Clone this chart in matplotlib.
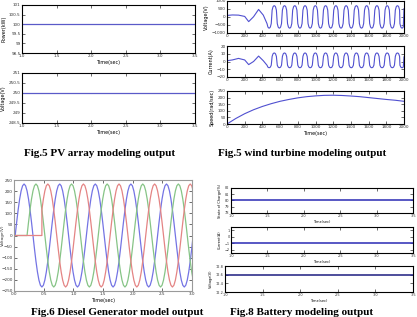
import matplotlib.pyplot as plt
import numpy as np

W, H = 417, 317

# ---- PV array (Fig.5 left) ----
pv_time = [1, 3.5]
pv_power = [100, 100]
pv_voltage = [250, 250]
pv_xticks = [1, 1.5, 2, 2.5, 3, 3.5]
pv_power_ticks = [98.5, 99, 99.5, 100, 100.5, 101]
pv_voltage_ticks = [248.5, 249, 249.5, 250, 250.5, 251]

# ---- wind turbine (Fig.5 right) ----
wind_start_t = [0, 60, 130, 200, 245, 300, 357, 410]
wind_start_v = [80, 110, 100, 20, -300, 0, 450, 100]
wind_start_i = [1, 2, 4, 2, -4, 0, 7, 1]
wind_peaks = [534, 650, 766, 882, 998, 1114, 1230, 1346, 1462, 1578, 1694, 1810, 1926]
wind_troughs = [476, 592, 708, 824, 940, 1056, 1172, 1288, 1404, 1520, 1636, 1752, 1868, 1978]
wind_v_levels = (680, -700)
wind_i_levels = (11, -8)
wind_end_v = 500
wind_end_i = 6
# shape of one rounded, slightly flat-topped half wave around its crest
crest_dt = [-24, -14, -6, 0, 6, 14, 24]
crest_frac = [0.6, 0.9, 0.98, 1.0, 0.98, 0.9, 0.6]
speed_t = [0, 100, 200, 300, 400, 500, 600, 700, 800, 900, 1000, 1100, 1200,
           1300, 1400, 1500, 1600, 1700, 1800, 1900, 2000]
speed = [0, 42, 78, 108, 133, 154, 172, 186, 198, 207, 213, 217, 218,
         216, 212, 207, 200, 193, 186, 180, 172]

# ---- diesel generator (Fig.6) ----
diesel_amp = 232
diesel_period = 0.6
# one cycle of the phase voltage, starting at a peak
diesel_cycle = [1.0, 0.966, 0.866, 0.707, 0.5, 0.259, 0.0, -0.259, -0.5, -0.707, -0.866, -0.966,
                -1.0, -0.966, -0.866, -0.707, -0.5, -0.259, 0.0, 0.259, 0.5, 0.707, 0.866, 0.966]
diesel_first_peak = {'a': 0.17, 'b': 0.37, 'c': 0.57}
diesel_on = {'a': 0.0, 'b': 0.22, 'c': 0.47}
diesel_colors = {'a': '#7474e4', 'b': '#86c486', 'c': '#e48484'}

# ---- battery (Fig.8) ----
bat_time = [1, 3.5]
bat_soc = [80, 80]
bat_current = [-1, -1]
bat_voltage = [12.6, 12.6]


def box(fig, l, t, r, b):
    return fig.add_axes([l / W, 1 - b / H, (r - l) / W, (b - t) / H])


def matlab_look(ax, fs=3, color='black'):
    ax.tick_params(direction='in', top=True, right=True, labelsize=fs,
                   length=2, width=0.5, pad=1, colors='#333333')
    for s in ax.spines.values():
        s.set_linewidth(0.8)
        s.set_color(color)


def wave(t0, v0, levels, end_v):
    ev = sorted([(t, levels[0]) for t in wind_peaks] + [(t, levels[1]) for t in wind_troughs])
    t = list(t0)
    v = list(v0)
    for tc, lv in ev:
        for dt, fr in zip(crest_dt, crest_frac):
            if tc + dt <= 2000:
                t.append(tc + dt)
                v.append(lv * fr)
    t.append(2000)
    v.append(end_v)
    return t, v


def phase(key):
    p = diesel_first_peak[key]
    step = diesel_period / len(diesel_cycle)
    k0 = int(np.ceil((diesel_on[key] - p) / step - 1e-9))
    k1 = int(np.floor((3.02 - p) / step))
    ks = np.arange(k0, k1 + 1)
    t = list(p + ks * step)
    v = [diesel_amp * diesel_cycle[k % len(diesel_cycle)] for k in ks]
    if diesel_on[key] > 0:
        t = [-0.02, diesel_on[key]] + t
        v = [0, 0] + v
    return t, v


fig = plt.figure(figsize=(W / 100, H / 100), dpi=100)
fig.patch.set_facecolor('white')

# PV array
ax = box(fig, 22, 5, 195, 53)
ax.plot(pv_time, pv_power, color='#5a5ac8', lw=0.9)
ax.set_xlim(1, 3.5)
ax.set_ylim(98.5, 101)
ax.set_xticks(pv_xticks)
ax.set_yticks(pv_power_ticks)
ax.set_yticklabels([f'{v:g}' for v in pv_power_ticks])
ax.set_ylabel('Power(kW)', fontsize=3.5, labelpad=2)
ax.set_xlabel('Time(sec)', fontsize=3.5, labelpad=1)
matlab_look(ax)

ax = box(fig, 22, 73, 195, 123)
ax.plot(pv_time, pv_voltage, color='#5a5ac8', lw=0.9)
ax.set_xlim(1, 3.5)
ax.set_ylim(248.5, 251)
ax.set_xticks(pv_xticks)
ax.set_yticks(pv_voltage_ticks)
ax.set_yticklabels([f'{v:g}' for v in pv_voltage_ticks])
ax.set_ylabel('Voltage(V)', fontsize=3.5, labelpad=2)
ax.set_xlabel('Time(sec)', fontsize=3.5, labelpad=1)
matlab_look(ax)

# wind turbine
wt, wv = wave(wind_start_t, wind_start_v, wind_v_levels, wind_end_v)
ax = box(fig, 227, 0.5, 404, 33)
ax.plot(wt, wv, color='#5050d0', lw=0.8)
ax.set_xlim(0, 2000)
ax.set_ylim(-1000, 1000)
ax.set_xticks(range(0, 2001, 200))
ax.set_yticks([-1000, -500, 0, 500, 1000])
ax.set_ylabel('Voltage(V)', fontsize=3.5, labelpad=2)
matlab_look(ax)

wt, wi = wave(wind_start_t, wind_start_i, wind_i_levels, wind_end_i)
ax = box(fig, 227, 46, 404, 77)
ax.plot(wt, wi, color='#5050d0', lw=0.8)
ax.set_xlim(0, 2000)
ax.set_ylim(-20, 20)
ax.set_xticks(range(0, 2001, 200))
ax.set_yticks([-20, -10, 0, 10, 20])
ax.set_ylabel('Current(A)', fontsize=3.5, labelpad=2)
matlab_look(ax)

ax = box(fig, 227, 91, 404, 124)
ax.plot(speed_t, speed, color='#5050d0', lw=0.8)
ax.set_xlim(0, 2000)
ax.set_ylim(0, 250)
ax.set_xticks(range(0, 2001, 200))
ax.set_yticks(range(0, 251, 50))
ax.set_ylabel('Speed(rad/sec)', fontsize=3.5, labelpad=2)
ax.set_xlabel('Time(sec)', fontsize=3.5, labelpad=1)
matlab_look(ax)

# diesel generator
ax = box(fig, 14, 180, 192, 291)
for key in ['a', 'b', 'c']:
    t, v = phase(key)
    ax.plot(t, v, color=diesel_colors[key], lw=0.9)
ax.set_xlim(0, 3)
ax.set_ylim(-250, 250)
ax.set_xticks([0, 0.5, 1, 1.5, 2, 2.5, 3])
ax.set_yticks(range(-250, 251, 50))
ax.set_xlabel('Time(sec)', fontsize=3.5, labelpad=1)
matlab_look(ax, color='#9a9a9a')
fig.text(0.5 / W, 1 - 235 / H, 'Voltage(V)', fontsize=3, rotation=90,
         ha='left', va='center', color='#333333')

# battery
ax = box(fig, 231, 188, 413, 213)
ax.plot(bat_time, bat_soc, color='#2a2ab4', lw=1.1)
ax.set_xlim(1, 3.5)
ax.set_ylim(78, 82)
ax.set_xticks(pv_xticks)
ax.set_yticks([78, 79, 80, 81, 82])
ax.set_ylabel('State of Charge(%)', fontsize=2.5, labelpad=2)
ax.set_xlabel('Time(sec)', fontsize=2.5, labelpad=1)
matlab_look(ax, fs=2.5)

ax = box(fig, 231, 227, 413, 253)
ax.plot(bat_time, bat_current, color='#2a2ab4', lw=1.1)
ax.set_xlim(1, 3.5)
ax.set_ylim(-2.5, 1.5)
ax.set_xticks(pv_xticks)
ax.set_yticks([-2, -1, 0, 1])
ax.set_ylabel('Current(A)', fontsize=2.5, labelpad=2)
ax.set_xlabel('Time(sec)', fontsize=2.5, labelpad=1)
matlab_look(ax, fs=2.5)

ax = box(fig, 225, 266, 413, 292)
ax.plot(bat_time, bat_voltage, color='#1c1c80', lw=1.1)
ax.set_xlim(1, 3.5)
ax.set_ylim(12.2, 12.8)
ax.set_xticks(pv_xticks)
ax.set_yticks([12.2, 12.4, 12.6, 12.8])
ax.set_ylabel('Voltage(V)', fontsize=2.5, labelpad=2)
ax.set_xlabel('Time(sec)', fontsize=2.5, labelpad=1)
matlab_look(ax, fs=2.5)

# captions
cap = dict(fontsize=8, fontweight='bold', family='Liberation Serif', ha='center', va='baseline')
fig.text(100 / W, 1 - 155.5 / H, 'Fig.5 PV array modeling output', **cap)
fig.text(302 / W, 1 - 155.5 / H, 'Fig.5 wind turbine modeling output', **cap)
fig.text(117 / W, 1 - 315 / H, 'Fig.6 Diesel Generator model output', **cap)
fig.text(302 / W, 1 - 315 / H, 'Fig.8 Battery modeling output', **cap)

fig.savefig('out.png', dpi=100)
